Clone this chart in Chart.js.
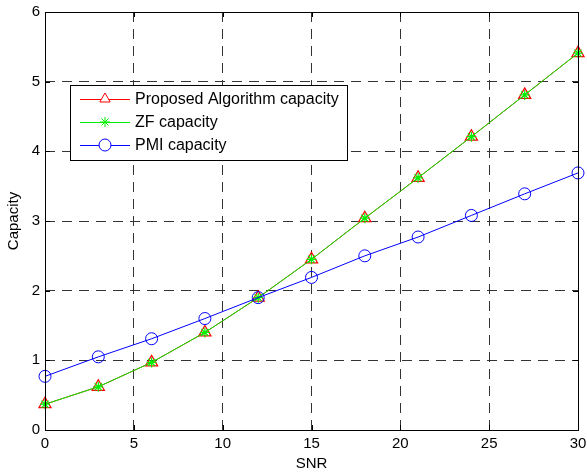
<!DOCTYPE html>
<html>
<head>
<meta charset="utf-8">
<script src="https://cdn.jsdelivr.net/npm/chart.js@4.4.0/dist/chart.umd.min.js"></script>
<style>
  html, body { margin: 0; padding: 0; background: #fff; }
  #wrap { width: 587px; height: 475px; position: relative; }
</style>
</head>
<body>
<div id="wrap"><canvas id="chart"></canvas></div>
<script>
// SNR points (x) and the three capacity curves
const snr = [0, 3, 6, 9, 12, 15, 18, 21, 24, 27, 30];
const proposedCap = [0.37, 0.62, 0.97, 1.40, 1.90, 2.45, 3.04, 3.62, 4.21, 4.81, 5.41];
const zfCap = [0.37, 0.62, 0.97, 1.40, 1.90, 2.45, 3.04, 3.62, 4.21, 4.81, 5.41];
const pmiCap = [0.77, 1.05, 1.31, 1.60, 1.90, 2.19, 2.50, 2.77, 3.08, 3.39, 3.69];

const xTicks = [0, 5, 10, 15, 20, 25, 30];
const yTicks = [0, 1, 2, 3, 4, 5, 6];

const legendItems = [
  { label: "Proposed Algorithm capacity", color: "#ff0000", style: "triangle" },
  { label: "ZF capacity", color: "#00ee00", style: "star" },
  { label: "PMI capacity", color: "#0000ff", style: "circle" }
];

const FONT = "'Liberation Sans', Arial, sans-serif";

function toPoints(ys) {
  return snr.map((x, i) => ({ x: x, y: ys[i] }));
}

// box around plot, inward ticks, legend box
const matlabFrame = {
  id: "matlabFrame",
  afterDatasetsDraw(chart) {
    const ctx = chart.ctx;
    const a = chart.chartArea;
    const xs = chart.scales.x, ys = chart.scales.y;
    ctx.save();
    ctx.strokeStyle = "#000";
    ctx.lineWidth = 1;
    ctx.setLineDash([]);
    ctx.beginPath();
    xTicks.forEach(t => {
      const px = Math.round(xs.getPixelForValue(t)) + 0.5;
      ctx.moveTo(px, a.bottom); ctx.lineTo(px, a.bottom - 5);
      ctx.moveTo(px, a.top); ctx.lineTo(px, a.top + 5);
    });
    yTicks.forEach(t => {
      const py = Math.round(ys.getPixelForValue(t)) + 0.5;
      ctx.moveTo(a.left, py); ctx.lineTo(a.left + 5, py);
      ctx.moveTo(a.right, py); ctx.lineTo(a.right - 5, py);
    });
    ctx.stroke();
    ctx.strokeRect(Math.round(a.left) + 0.5, Math.round(a.top) + 0.5,
      Math.round(a.right - a.left), Math.round(a.bottom - a.top));

    // legend
    const lx = 70, ly = 85, lw = 277, lh = 75;
    ctx.fillStyle = "#fff";
    ctx.fillRect(lx, ly, lw, lh);
    ctx.strokeRect(lx + 0.5, ly + 0.5, lw, lh);
    ctx.font = "16px " + FONT;
    ctx.textBaseline = "middle";
    legendItems.forEach((it, i) => {
      const y = ly + 14 + i * 23;
      ctx.strokeStyle = it.color;
      ctx.beginPath();
      ctx.moveTo(80, y + 0.5); ctx.lineTo(130, y + 0.5);
      ctx.stroke();
      ctx.fillStyle = "#fff";
      Chart.helpers.drawPoint(ctx, {
        pointStyle: it.style, radius: it.style === "star" ? 5 : 6,
        borderWidth: 1
      }, 105, y);
      ctx.fillStyle = "#000";
      ctx.fillText(it.label, 135, y + 1);
    });
    ctx.restore();
  }
};

new Chart(document.getElementById("chart"), {
  type: "line",
  data: {
    datasets: [
      {
        label: legendItems[0].label,
        data: toPoints(proposedCap),
        borderColor: "#ff0000",
        backgroundColor: "rgba(0,0,0,0)",
        borderWidth: 1,
        pointStyle: "triangle",
        pointRadius: 7,
        pointBorderWidth: 1.2,
        order: 2
      },
      {
        label: legendItems[1].label,
        data: toPoints(zfCap),
        borderColor: "#00ee00",
        backgroundColor: "rgba(0,0,0,0)",
        borderWidth: 1,
        pointStyle: "star",
        pointRadius: 5,
        pointBorderWidth: 1.2,
        order: 1
      },
      {
        label: legendItems[2].label,
        data: toPoints(pmiCap),
        borderColor: "#0000ff",
        backgroundColor: "rgba(0,0,0,0)",
        borderWidth: 1,
        pointStyle: "circle",
        pointRadius: 6,
        pointBorderWidth: 1,
        order: 0
      }
    ]
  },
  options: {
    responsive: true,
    maintainAspectRatio: false,
    animation: false,
    events: [],
    clip: false,
    layout: { padding: { top: 12, right: 9, left: 0, bottom: 0 } },
    plugins: {
      legend: { display: false },
      tooltip: { enabled: false }
    },
    scales: {
      x: {
        type: "linear",
        min: 0, max: 30,
        afterBuildTicks: s => { s.ticks = xTicks.map(v => ({ value: v })); },
        afterFit: s => { s.height = 45; s.paddingLeft = 0; s.paddingRight = 0; },
        grid: { color: "#333", lineWidth: 1, tickLength: 0, drawTicks: false },
        border: { display: false, dash: [10, 7] },
        ticks: { color: "#000", font: { family: FONT, size: 15 }, padding: 5, maxRotation: 0 },
        title: { display: true, text: "SNR", color: "#000", font: { family: FONT, size: 15 }, padding: { top: 0, bottom: 2 } }
      },
      y: {
        type: "linear",
        min: 0, max: 6,
        afterBuildTicks: s => { s.ticks = yTicks.map(v => ({ value: v })); },
        afterFit: s => { s.width = 45; s.paddingTop = 0; s.paddingBottom = 0; },
        grid: { color: "#333", lineWidth: 1, tickLength: 0, drawTicks: false },
        border: { display: false, dash: [10, 7] },
        ticks: { color: "#000", font: { family: FONT, size: 15 }, padding: 5 },
        title: { display: true, text: "Capacity", color: "#000", font: { family: FONT, size: 15 }, padding: { top: 5, bottom: 0 } }
      }
    }
  },
  plugins: [matlabFrame]
});
</script>
</body>
</html>
